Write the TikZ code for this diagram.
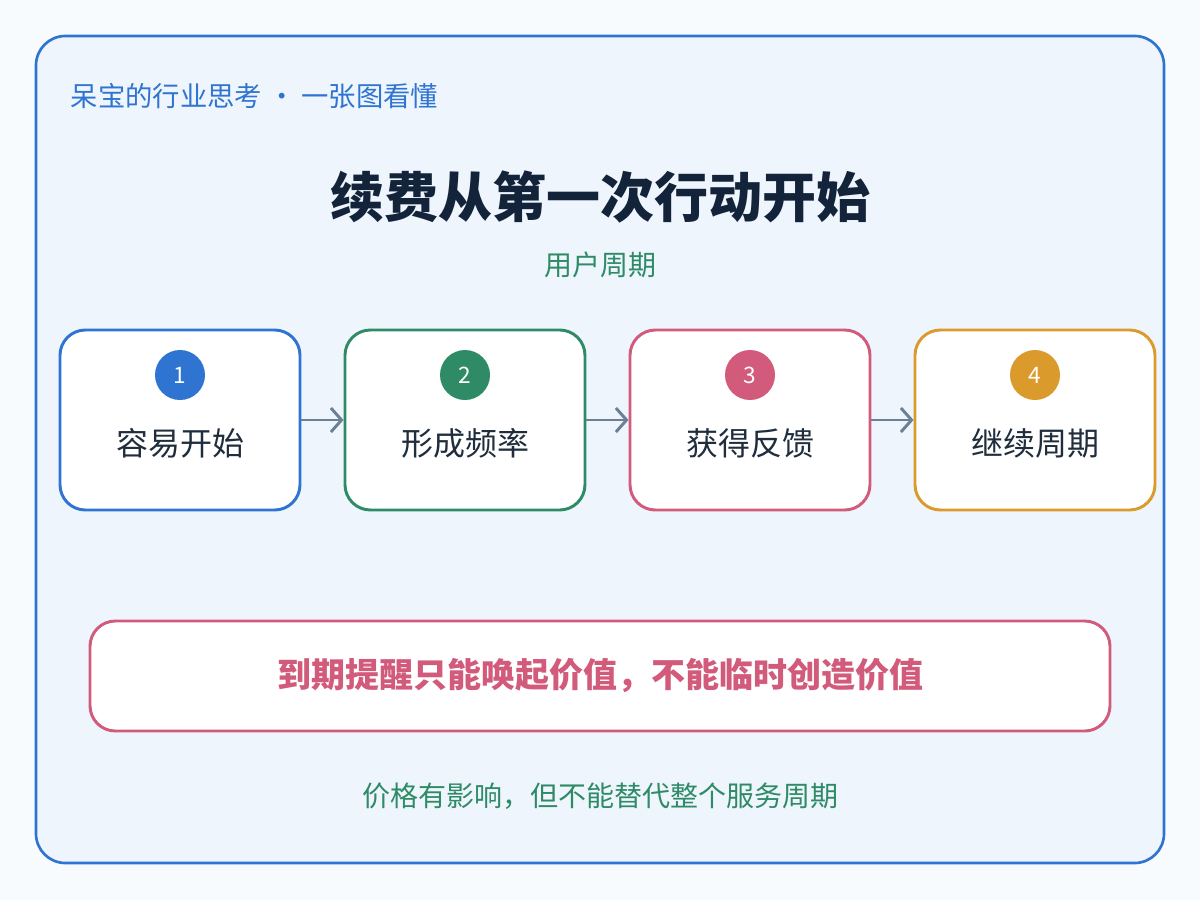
\documentclass[tikz,border=0pt]{standalone}
\usepackage{fontspec}
\setmainfont{Noto Sans CJK SC}
\usetikzlibrary{arrows.meta}
\definecolor{blu}{HTML}{2F74D0}
\definecolor{grn}{HTML}{2E8B65}
\definecolor{pnk}{HTML}{D25A7A}
\definecolor{org}{HTML}{DB9A2C}
\definecolor{dark}{HTML}{13233A}
\definecolor{arr}{HTML}{6B7F95}
\definecolor{panel}{HTML}{EEF5FD}
\definecolor{bg}{HTML}{F8FBFE}
\definecolor{txt}{HTML}{1F2D3D}
\tikzset{
 step/.style={draw=#1,line width=2.2pt,fill=white,rounded corners=19pt,minimum width=180pt,minimum height=135pt},
 num/.style={circle,fill=#1,minimum size=37.5pt,inner sep=0pt,text=white,font=\fontsize{17}{20}\selectfont},
 lab/.style={text=txt,font=\fontsize{24}{28}\selectfont},
 arw/.style={draw=arr,line width=2.2pt,-{Straight Barb[length=8pt,width=18pt]}}
}
\begin{document}
\begin{tikzpicture}[x=0.75pt,y=-0.75pt]
\fill[bg] (0,0) rectangle (1200,900);
\useasboundingbox (0,0) rectangle (1200,900);
\draw[blu,line width=2pt,fill=panel,rounded corners=22pt] (36,36) rectangle (1164,863);
\node[anchor=west,text=blu,font=\fontsize{20.5}{24}\selectfont] (hdr) at (66,96) {呆宝的行业思考 · 一张图看懂};
\node[text=dark,font=\fontsize{40.5}{48}\selectfont\bfseries] (title) at (600,197) {续费从第一次行动开始};
\node[text=grn,font=\fontsize{21}{25}\selectfont] (sub) at (600,265) {用户周期};
\node[step=blu] (b1) at (180,420) {};
\node[step=grn] (b2) at (465,420) {};
\node[step=pnk] (b3) at (750,420) {};
\node[step=org] (b4) at (1035,420) {};
\node[num=blu] (n1) at (180,375) {1};
\node[num=grn] (n2) at (465,375) {2};
\node[num=pnk] (n3) at (750,375) {3};
\node[num=org] (n4) at (1035,375) {4};
\node[lab] (l1) at (180,443) {容易开始};
\node[lab] (l2) at (465,443) {形成频率};
\node[lab] (l3) at (750,443) {获得反馈};
\node[lab] (l4) at (1035,443) {继续周期};
\draw[arw] (b1.east) -- (b2.west);
\draw[arw] (b2.east) -- (b3.west);
\draw[arw] (b3.east) -- (b4.west);
\node[draw=pnk,line width=2.2pt,fill=white,rounded corners=19pt,minimum width=765pt,minimum height=82.5pt,text=pnk,font=\fontsize{25.5}{30}\selectfont\bfseries] (msg) at (600,676) {到期提醒只能唤起价值，不能临时创造价值};
\node[text=grn,font=\fontsize{21}{25}\selectfont] (foot) at (600,796) {价格有影响，但不能替代整个服务周期};
\end{tikzpicture}
\end{document}
